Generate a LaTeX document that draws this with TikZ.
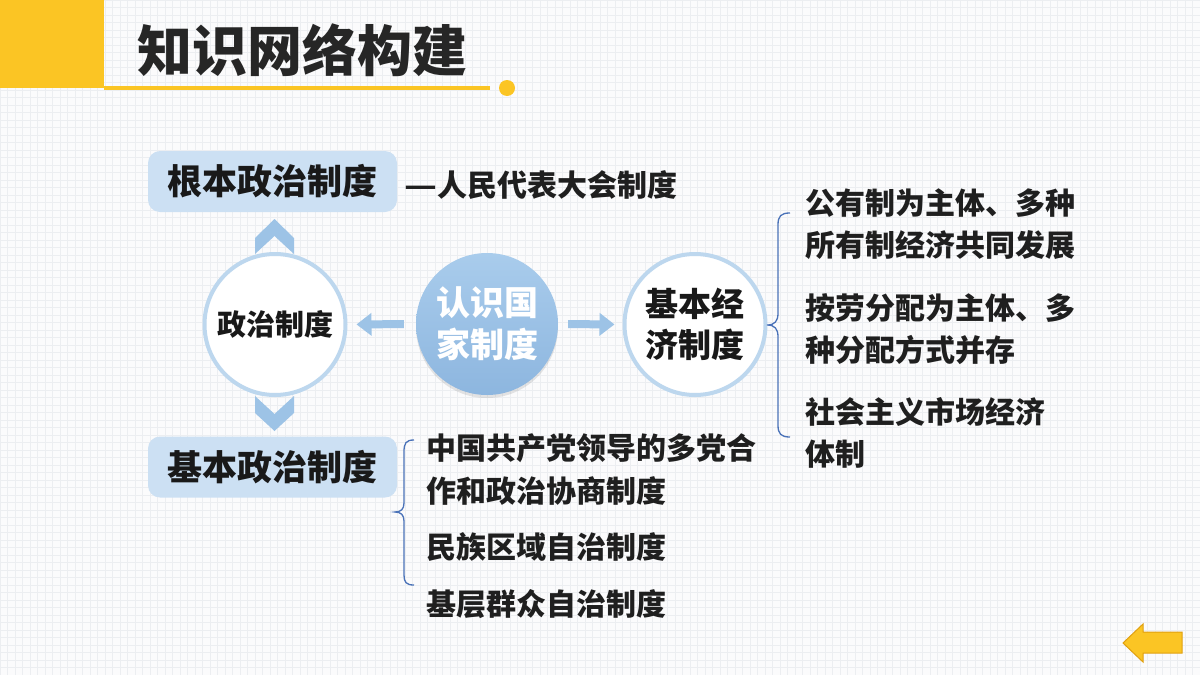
\documentclass[tikz,border=0pt]{standalone}
\usepackage{fontspec}
\usepackage{graphicx}
\setmainfont{Noto Sans CJK SC}
\usetikzlibrary{arrows.meta,shadows}
\definecolor{gold}{HTML}{FBC524}
\definecolor{goldedge}{HTML}{E0A010}
\definecolor{boxblue}{HTML}{CCE0F3}
\definecolor{ringblue}{HTML}{BDD7EE}
\definecolor{arrowblue}{HTML}{9DC3E6}
\definecolor{coretop}{HTML}{A9CCEC}
\definecolor{corebot}{HTML}{8DB6DF}
\definecolor{braceblue}{HTML}{4A72B8}
\definecolor{gridc}{HTML}{ECEEF1}
\definecolor{bgc}{HTML}{FBFBFC}
\tikzset{
  txt/.style={font=\bfseries\fontsize{30}{42.5}\selectfont, anchor=west, inner sep=0pt, align=left, text=black!88},
  bluebox/.style={fill=boxblue, rounded corners=12pt, minimum width=249pt, minimum height=61pt, inner sep=0pt, font=\bfseries\fontsize{35}{40}\selectfont, text=black!90},
  ring/.style={circle, draw=ringblue, line width=4pt, fill=white, minimum size=141pt, inner sep=0pt, text=black!90, align=center},
  fatarrow/.style={draw=arrowblue, line width=8pt, -{Triangle[width=22pt,length=15pt]}},
  chevron/.style={fill=arrowblue},
  brace/.style={draw=braceblue, line width=1.3pt}
}
\begin{document}
\begin{tikzpicture}[x=1pt,y=-1pt]
\useasboundingbox (0,0) rectangle (1200,675);
% background
\fill[bgc] (0,0) rectangle (1200,675);
\draw[gridc, line width=0.4pt, step=7.5pt] (0,0) grid (1200,675);
% header
\fill[gold] (0,0) rectangle (104,88);
\fill[gold] (104,85.5) rectangle (490,89.5);
\fill[gold] (507,88) circle (8);
\node[anchor=west, inner sep=0pt, font=\bfseries\fontsize{55}{60}\selectfont, text=black!85] (title) at (137,50) {知识网络构建};
% chevrons (behind ring)
\fill[chevron] (255,254) -- (255,238) -- (274.5,219) -- (294,238) -- (294,254) -- (274.5,236) -- cycle;
\fill[chevron] (255,396) -- (274.5,414) -- (294,396) -- (294,413) -- (274.5,431) -- (255,413) -- cycle;
% boxes
\node[bluebox] (fund) at (272.5,181.5) {根本政治制度};
\node[bluebox] (basic) at (272.5,467) {基本政治制度};
\node[txt] (npc) at (404,185) {\scalebox{1.2}[1]{—}人民代表大会制度};
% circles
\node[ring, font=\bfseries\fontsize{29}{34}\selectfont] (pol) at (275,324.5) {政治制度};
\node[circle, minimum size=142pt, inner sep=0pt, top color=coretop, bottom color=corebot, drop shadow={opacity=0.2, shadow xshift=0pt, shadow yshift=-3pt}, text=white, align=center, font=\bfseries\fontsize{34}{42}\selectfont] (core) at (487,324) {认识国\\家制度};
\node[ring, font=\bfseries\fontsize{33}{41}\selectfont] (econ) at (695,324.5) {基本经\\济制度};
% arrows
\draw[fatarrow, shorten <=12pt, shorten >=9pt] (core.west) -- (pol.east);
\draw[fatarrow, shorten <=10pt, shorten >=8pt] (core.east) -- (econ.west);
% right brace
\draw[brace] (790,213) .. controls (781,213) and (778,216) .. (778,225) -- (778,313) .. controls (778,321) and (775,325) .. (767,325) .. controls (775,325) and (778,329) .. (778,337) -- (778,425) .. controls (778,434) and (781,437) .. (790,437);
% left brace
\draw[brace] (414,440) .. controls (406,440) and (404,443) .. (404,452) -- (404,503) .. controls (404,509) and (401,512) .. (395,512) .. controls (401,512) and (404,515) .. (404,521) -- (404,575) .. controls (404,582) and (406,585) .. (414,585);
% right texts
\node[txt] (e1) at (805,224) {公有制为主体、多种\\所有制经济共同发展};
\node[txt] (e2) at (805,329) {按劳分配为主体、多\\种分配方式并存};
\node[txt] (e3) at (805,433) {社会主义市场经济\\体制};
% left texts
\node[txt] (p1) at (426,469.5) {中国共产党领导的多党合\\作和政治协商制度};
\node[txt] (p2) at (426,547) {民族区域自治制度};
\node[txt] (p3) at (426,604) {基层群众自治制度};
% back arrow
\draw[fill=gold, draw=goldedge, line width=1pt] (1182,632) -- (1143,632) -- (1143,624) -- (1123,643) -- (1143,662) -- (1143,653) -- (1182,653) -- cycle;
\end{tikzpicture}
\end{document}
